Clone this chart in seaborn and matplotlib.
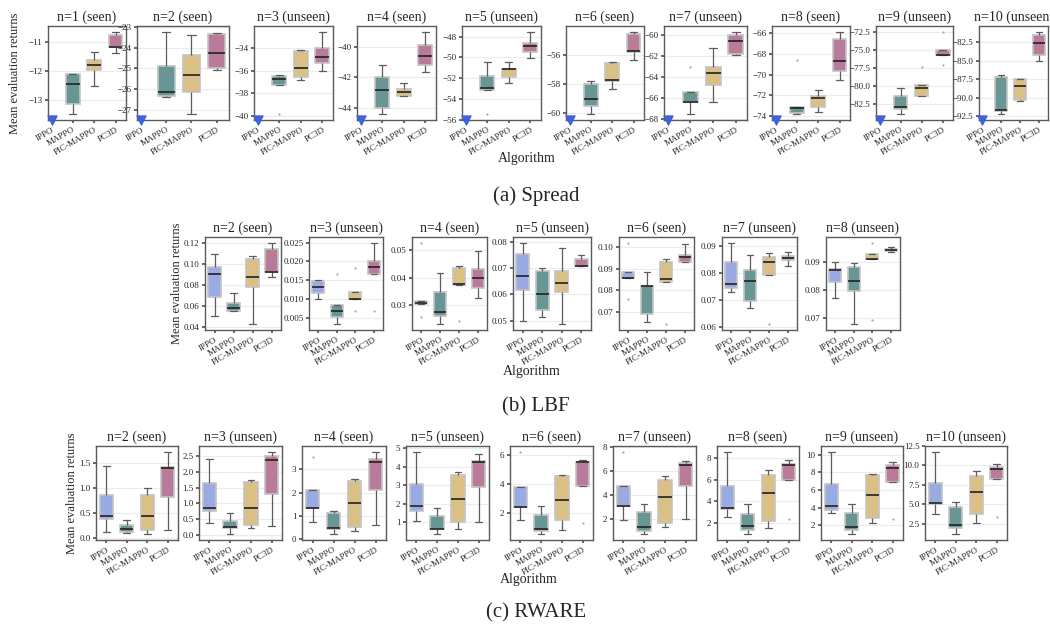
import numpy as np
import pandas as pd
import matplotlib
matplotlib.use("Agg")
import matplotlib.pyplot as plt
from matplotlib.ticker import MaxNLocator
import seaborn as sns

algos = ["IPPO", "MAPPO", "PIC-MAPPO", "PC3D"]
colors = ["#8ea3ef", "#5f9e9b", "#e8c576", "#c5709a"]

# ---------------- Spread (IPPO falls below the axis -> triangle) ----------------
spread_titles = ["n=1 (seen)", "n=2 (seen)", "n=3 (unseen)", "n=4 (seen)", "n=5 (unseen)",
                 "n=6 (seen)", "n=7 (unseen)", "n=8 (seen)", "n=9 (unseen)", "n=10 (unseen)"]
spread_mappo = [
    [-13.48, -13.15, -12.45, -12.12, -12.10],
    [-26.38, -26.33, -26.13, -24.88, -23.24],
    [-39.84, -37.27, -36.74, -36.45, -36.40],
    [-44.40, -44.00, -42.81, -42.00, -41.24],
    [-55.45, -53.10, -52.96, -51.83, -50.41],
    [-60.07, -59.55, -59.04, -58.00, -57.77],
    [-67.55, -66.40, -66.37, -65.48, -63.08],
    [-73.80, -73.71, -73.20, -73.14, -68.60],
    [-83.80, -83.13, -82.86, -81.36, -80.27],
    [-92.20, -91.75, -91.66, -87.23, -86.92],
]
spread_pic = [
    [-12.53, -11.98, -11.80, -11.61, -11.36],
    [-27.20, -26.15, -25.31, -24.35, -23.40],
    [-36.86, -36.54, -35.80, -34.24, -34.18],
    [-43.25, -43.24, -42.98, -42.76, -42.39],
    [-52.45, -51.87, -51.13, -51.07, -50.41],
    [-58.38, -57.83, -57.70, -56.57, -56.50],
    [-66.44, -64.81, -63.59, -63.08, -61.21],
    [-73.60, -73.14, -72.24, -72.10, -71.50],
    [-81.30, -81.30, -80.21, -79.80, -77.30],
    [-90.53, -90.30, -88.40, -87.44, -87.44],
]
spread_pc3d = [
    [-11.38, -11.18, -11.17, -10.75, -10.66],
    [-25.08, -25.00, -24.24, -23.32, -23.29],
    [-36.00, -35.30, -34.82, -33.97, -32.60],
    [-41.69, -41.21, -40.65, -39.89, -39.06],
    [-50.05, -49.50, -48.87, -48.60, -47.55],
    [-56.38, -55.77, -55.70, -54.55, -54.43],
    [-61.85, -61.79, -60.58, -59.93, -59.68],
    [-70.57, -69.70, -68.73, -66.57, -65.90],
    [-77.00, -75.72, -75.70, -74.95, -72.50],
    [-85.07, -84.20, -82.63, -81.53, -81.17],
]

# ---------------- LBF ----------------
lbf_titles = ["n=2 (seen)", "n=3 (unseen)", "n=4 (seen)", "n=5 (unseen)",
              "n=6 (seen)", "n=7 (unseen)", "n=8 (unseen)"]
lbf_ippo = [
    [0.0504, 0.0680, 0.0900, 0.0973, 0.1100],
    [0.0101, 0.0117, 0.0133, 0.0149, 0.0150],
    [0.0257, 0.0306, 0.0308, 0.0315, 0.0525],
    [0.0501, 0.0615, 0.0669, 0.0754, 0.0795],
    [0.0759, 0.0857, 0.0857, 0.0886, 0.1020],
    [0.0729, 0.0743, 0.0760, 0.0841, 0.0910],
    [0.0773, 0.0831, 0.0874, 0.0878, 0.0900],
]
lbf_mappo = [
    [0.0551, 0.0551, 0.0576, 0.0624, 0.0724],
    [0.00333, 0.0051, 0.00667, 0.00843, 0.0166],
    [0.0233, 0.0260, 0.0276, 0.0350, 0.0417],
    [0.0515, 0.0541, 0.0601, 0.0688, 0.0701],
    [0.0650, 0.0689, 0.0818, 0.0818, 0.0886],
    [0.0672, 0.0696, 0.0772, 0.0811, 0.0866],
    [0.0680, 0.0799, 0.0834, 0.0884, 0.0898],
]
lbf_pic = [
    [0.0425, 0.0775, 0.0876, 0.1049, 0.1074],
    [0.00667, 0.0100, 0.0100, 0.0118, 0.0183],
    [0.0242, 0.0373, 0.0379, 0.0436, 0.0443],
    [0.0488, 0.0608, 0.0643, 0.0688, 0.0776],
    [0.0643, 0.0840, 0.0851, 0.0930, 0.0944],
    [0.0612, 0.0793, 0.0839, 0.0860, 0.0873],
    [0.0693, 0.0913, 0.0913, 0.0931, 0.0969],
]
lbf_pc3d = [
    [0.0876, 0.0926, 0.0926, 0.1143, 0.1200],
    [0.00667, 0.0167, 0.0184, 0.0200, 0.0249],
    [0.0327, 0.0363, 0.0400, 0.0433, 0.0498],
    [0.0709, 0.0709, 0.0709, 0.0735, 0.0749],
    [0.0930, 0.0930, 0.0957, 0.0966, 0.1014],
    [0.0824, 0.0846, 0.0855, 0.0863, 0.0878],
    [0.0936, 0.0941, 0.0945, 0.0948, 0.0954],
]

# ---------------- RWARE ----------------
rware_titles = ["n=2 (seen)", "n=3 (unseen)", "n=4 (seen)", "n=5 (unseen)", "n=6 (seen)",
                "n=7 (unseen)", "n=8 (seen)", "n=9 (unseen)", "n=10 (unseen)"]
rware_ippo = [
    [0.133, 0.380, 0.440, 0.867, 1.433],
    [0.399, 0.767, 0.862, 1.639, 2.395],
    [0.73, 1.33, 1.33, 2.10, 3.54],
    [1.07, 1.62, 1.86, 3.05, 4.78],
    [1.52, 2.39, 2.39, 3.77, 6.20],
    [1.89, 3.04, 3.10, 4.73, 7.60],
    [2.50, 3.28, 3.34, 5.44, 8.59],
    [3.37, 3.79, 4.17, 6.74, 10.30],
    [3.80, 4.98, 5.19, 7.77, 11.72],
]
rware_mappo = [
    [0.100, 0.133, 0.180, 0.267, 0.360],
    [0.042, 0.220, 0.252, 0.462, 0.704],
    [0.23, 0.43, 0.46, 1.14, 1.21],
    [0.36, 0.61, 0.61, 1.30, 1.75],
    [0.57, 0.78, 0.90, 1.84, 2.46],
    [0.73, 0.99, 1.27, 2.54, 3.24],
    [0.94, 1.28, 1.66, 2.78, 3.72],
    [1.03, 1.44, 1.86, 3.45, 4.43],
    [1.20, 1.93, 2.36, 4.72, 5.32],
]
rware_pic = [
    [0.087, 0.160, 0.440, 0.867, 1.000],
    [0.220, 0.326, 0.851, 1.681, 1.723],
    [0.36, 0.51, 1.54, 2.50, 2.57],
    [0.65, 0.98, 2.26, 3.54, 3.70],
    [0.85, 1.54, 2.87, 4.57, 4.62],
    [1.27, 1.61, 3.83, 5.27, 5.63],
    [1.47, 2.19, 4.75, 6.44, 6.88],
    [2.27, 2.80, 5.44, 7.70, 7.80],
    [2.58, 3.82, 6.53, 8.67, 9.23],
]
rware_pc3d = [
    [0.160, 0.820, 1.407, 1.420, 1.720],
    [0.305, 1.282, 2.353, 2.500, 2.616],
    [0.61, 2.10, 3.30, 3.44, 3.73],
    [1.00, 2.92, 4.26, 4.30, 4.66],
    [1.33, 3.89, 5.49, 5.50, 5.68],
    [1.97, 4.75, 6.48, 6.65, 6.85],
    [2.30, 6.00, 7.41, 7.47, 7.84],
    [2.69, 6.94, 8.50, 8.87, 9.14],
    [3.40, 8.28, 9.57, 9.87, 10.20],
]

sns.set_theme(style="whitegrid")
plt.rcParams["font.family"] = ["Liberation Serif", "DejaVu Serif"]

W, H = 1050, 626
fig = plt.figure(figsize=(W / 100, H / 100), dpi=100)


def px_axes(left, right, top, bottom):
    return fig.add_axes([left / W, 1 - bottom / H, (right - left) / W, (bottom - top) / H])


def to_long(ippo, mappo, pic, pc3d):
    rows = []
    for a, vals in zip(algos, [ippo, mappo, pic, pc3d]):
        if vals is None:
            continue
        for v in vals:
            rows.append((a, v))
    return pd.DataFrame(rows, columns=["Algorithm", "Return"])


def draw_panel(ax, df, title, ippo_below=False):
    sns.boxplot(data=df, x="Algorithm", y="Return", hue="Algorithm", order=algos,
                hue_order=algos, palette=dict(zip(algos, colors)), width=0.65,
                linewidth=0.9, linecolor="#5c5c5c", fliersize=1.6, legend=False, ax=ax,
                boxprops={"edgecolor": "#c4c4c4", "linewidth": 1.2},
                medianprops={"color": "#222222", "linewidth": 1.2},
                flierprops={"marker": "o", "markerfacecolor": "#a8a8a8",
                            "markeredgecolor": "none"})
    ax.margins(y=0.075)
    ax.yaxis.set_major_locator(MaxNLocator(nbins=6, steps=[1, 2, 2.5, 5, 10]))
    if ippo_below:
        lo, hi = ax.get_ylim()
        ax.set_ylim(lo, hi)
        ax.scatter([0], [lo], marker="v", s=42, color="#3f63d8", clip_on=False, zorder=6)
    ax.set_title(title, fontsize=10, pad=4)
    ax.set_xlabel("")
    ax.set_ylabel("")
    ax.xaxis.grid(False)
    ax.yaxis.grid(True, color="#ececec", linewidth=0.8)
    ax.tick_params(axis="y", labelsize=6.5, length=2.5, pad=1.5, left=True, color="#555555")
    ax.tick_params(axis="x", labelsize=6.5, length=2.5, pad=1.5, bottom=True, color="#555555")
    for lbl in ax.get_xticklabels():
        lbl.set_rotation(30)
        lbl.set_ha("right")
        lbl.set_rotation_mode("anchor")
    for s in ax.spines.values():
        s.set_color("#5a5a5a")
        s.set_linewidth(1.0)


def row_ylabel(ax, x_frac):
    ax.set_ylabel("Mean evaluation returns", fontsize=9)
    ax.yaxis.set_label_coords(x_frac, 0.5)


# row 1: Spread
spread_pos = [(48, 126), (137, 229), (254, 333), (357, 436), (462, 541),
              (566, 644), (664, 747), (772, 850), (876, 953), (979, 1048)]
for i, (l, r) in enumerate(spread_pos):
    ax = px_axes(l, r, 26, 120)
    df = to_long(None, spread_mappo[i], spread_pic[i], spread_pc3d[i])
    draw_panel(ax, df, spread_titles[i], ippo_below=True)
    if i == 0:
        row_ylabel(ax, -0.35)

# row 2: LBF
lbf_pos = [(205, 281), (309, 383), (412, 487), (513, 591), (619, 694), (722, 797), (826, 900)]
for i, (l, r) in enumerate(lbf_pos):
    ax = px_axes(l, r, 237, 330)
    df = to_long(lbf_ippo[i], lbf_mappo[i], lbf_pic[i], lbf_pc3d[i])
    draw_panel(ax, df, lbf_titles[i])
    if i == 0:
        row_ylabel(ax, -0.29)

# row 3: RWARE
rware_pos = [(96, 178), (199, 282), (302, 386), (406, 489), (510, 593),
             (613, 696), (717, 799), (821, 903), (925, 1007)]
for i, (l, r) in enumerate(rware_pos):
    ax = px_axes(l, r, 446, 540)
    df = to_long(rware_ippo[i], rware_mappo[i], rware_pic[i], rware_pc3d[i])
    draw_panel(ax, df, rware_titles[i])
    if i == 0:
        row_ylabel(ax, -0.22)

fig.text(527 / W, 1 - 158 / H, "Algorithm", ha="center", va="center", fontsize=10)
fig.text(532 / W, 1 - 371 / H, "Algorithm", ha="center", va="center", fontsize=10)
fig.text(529 / W, 1 - 580 / H, "Algorithm", ha="center", va="center", fontsize=10)
fig.text(536 / W, 1 - 196 / H, "(a) Spread", ha="center", va="center", fontsize=15)
fig.text(536 / W, 1 - 407 / H, "(b) LBF", ha="center", va="center", fontsize=15)
fig.text(536 / W, 1 - 613 / H, "(c) RWARE", ha="center", va="center", fontsize=15)

fig.savefig("out.png", dpi=100)
